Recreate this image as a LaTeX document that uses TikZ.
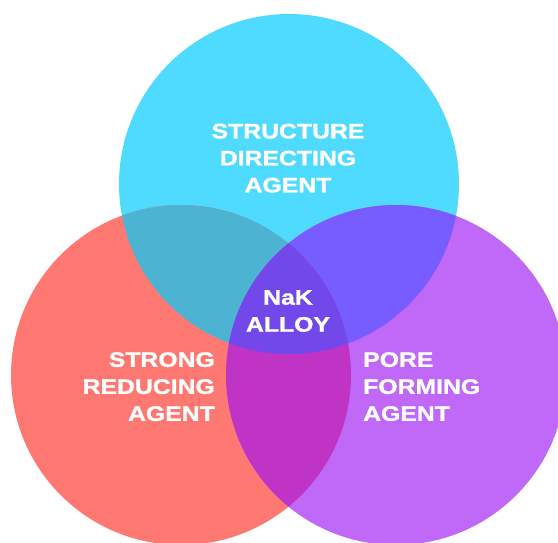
\documentclass[tikz,border=0pt]{standalone}
\usepackage{fontspec}
\newfontfamily\lblfont{Liberation Sans}[FakeStretch=1.18,BoldFeatures={FakeBold=1.2}]

\definecolor{cyanc}{HTML}{4FDBFF}
\definecolor{redc}{HTML}{FF7872}
\definecolor{purc}{HTML}{C068F8}
\definecolor{cyred}{HTML}{4DB3D3}
\definecolor{cypur}{HTML}{775CFF}
\definecolor{redpur}{HTML}{BF34C4}
\definecolor{allc}{HTML}{7248EA}

% the three discs
\def\topc{(289,184) circle [radius=170]}
\def\leftc{(181,375) circle [radius=170]}
\def\rightc{(396,375) circle [radius=170]}

\begin{document}
\begin{tikzpicture}[x=1pt,y=-1pt,
    lbl/.style={text=white,font=\lblfont\bfseries\fontsize{21}{27}\selectfont,inner sep=0pt,anchor=north}]
  \clip (0,0) rectangle (558,542);
  \fill [white] (0,0) rectangle (558,542);
  \fill [cyanc] \topc;
  \fill [redc] \leftc;
  \fill [purc] \rightc;
  % overlaps with the top disc
  \begin{scope}
    \clip \topc;
    \fill [cyred] \leftc;
    \fill [cypur] \rightc;
  \end{scope}
  % bottom overlap, then the middle
  \begin{scope}
    \clip \leftc;
    \fill [redpur] \rightc;
    \clip \topc;
    \fill [allc] \rightc;
  \end{scope}
  \node [lbl,align=center] (sda) at (288,123.5) {STRUCTURE\\DIRECTING\\AGENT};
  \node [lbl,align=center] (nak) at (288,290) {NaK\\ALLOY};
  \node [lbl,align=right,anchor=north east] (sra) at (215,352) {STRONG\\REDUCING\\AGENT};
  \node [lbl,align=left,anchor=north west] (pfa) at (363,352) {PORE\\FORMING\\AGENT};
\end{tikzpicture}
\end{document}
